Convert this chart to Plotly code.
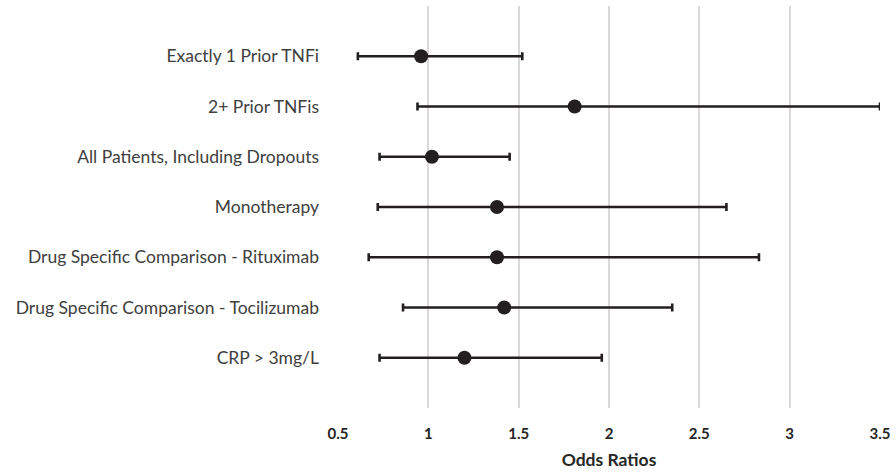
import plotly.graph_objects as go

categories = [
    "Exactly 1 Prior TNFi",
    "2+ Prior TNFis",
    "All Patients, Including Dropouts",
    "Monotherapy",
    "Drug Specific Comparison - Rituximab",
    "Drug Specific Comparison - Tocilizumab",
    "CRP > 3mg/L",
]
odds_ratio = [0.96, 1.81, 1.02, 1.38, 1.38, 1.42, 1.20]
ci_low = [0.61, 0.94, 0.73, 0.72, 0.67, 0.86, 0.73]
ci_high = [1.52, 3.50, 1.45, 2.65, 2.83, 2.35, 1.96]
x_ticks = [0.5, 1, 1.5, 2, 2.5, 3, 3.5]

err_plus = [h - o for h, o in zip(ci_high, odds_ratio)]
err_minus = [o - l for o, l in zip(odds_ratio, ci_low)]

ink = "#231f20"
font_family = "Lato, 'Open Sans', sans-serif"

fig = go.Figure(
    go.Scatter(
        x=odds_ratio,
        y=categories,
        mode="markers",
        marker=dict(size=14, color=ink),
        error_x=dict(
            type="data",
            symmetric=False,
            array=err_plus,
            arrayminus=err_minus,
            color=ink,
            thickness=2.6,
            width=4,
        ),
        showlegend=False,
    )
)

fig.update_layout(
    width=896,
    height=472,
    margin=dict(l=338, r=12, t=6, b=63),
    paper_bgcolor="white",
    plot_bgcolor="white",
    font=dict(family=font_family, size=18, color="#404040"),
)
fig.update_xaxes(
    range=[0.5, 3.5],
    tickvals=x_ticks,
    ticktext=[f"{v:g}" for v in x_ticks],
    showgrid=True,
    gridcolor="#d9d9d9",
    gridwidth=1.5,
    zeroline=False,
    showline=False,
    ticks="",
    ticklabelstandoff=15,
    tickfont=dict(family=font_family, size=15, color="#262626", weight="bold"),
    title=dict(text="<b>Odds Ratios</b>", font=dict(family=font_family, size=17.5, color="#262626"), standoff=12),
)
fig.update_yaxes(
    type="category",
    categoryorder="array",
    categoryarray=categories,
    range=[7, -1],
    showgrid=False,
    zeroline=False,
    showline=False,
    ticks="",
    ticklabelstandoff=18,
    tickfont=dict(family=font_family, size=17.5, color="#404040"),
)

fig.write_html(
    "out.html",
    config={"displayModeBar": False},
    post_script="document.body.style.margin='0';",
)
